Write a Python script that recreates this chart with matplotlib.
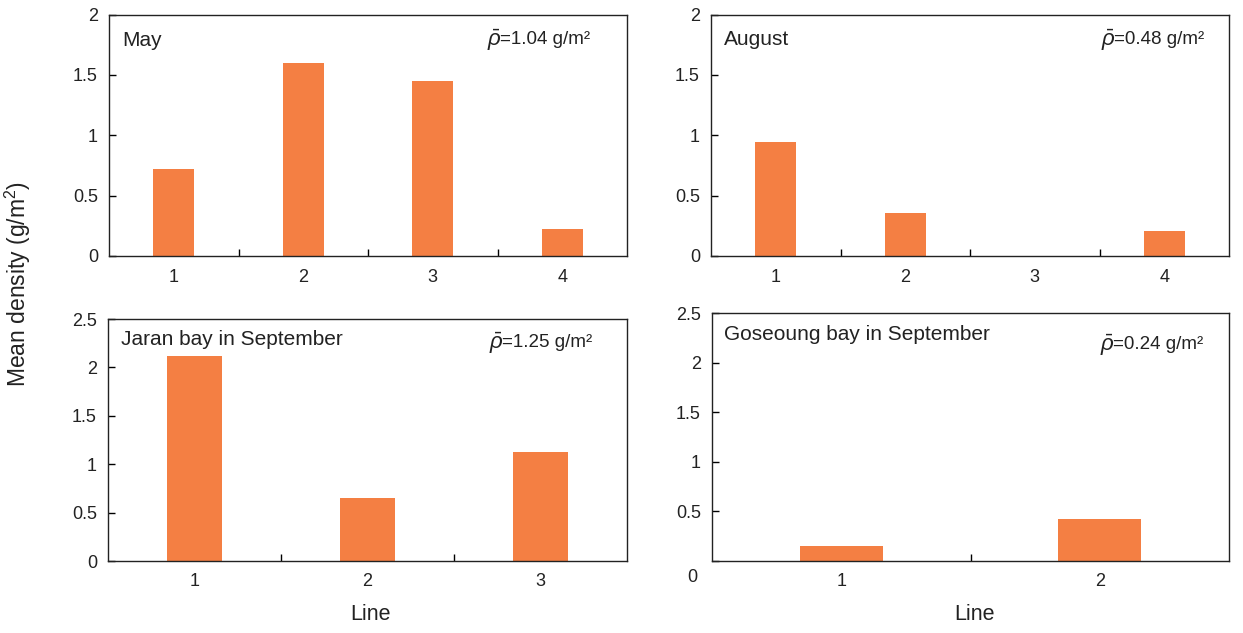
import numpy as np
import matplotlib
matplotlib.use("Agg")
import matplotlib.pyplot as plt
from matplotlib.transforms import offset_copy

plt.rcParams['font.family'] = ['Liberation Sans', 'DejaVu Sans']
plt.rcParams['mathtext.fontset'] = 'custom'
plt.rcParams['mathtext.rm'] = 'Liberation Sans'
plt.rcParams['mathtext.it'] = 'Liberation Sans:italic'

# data
may_lines = ['1', '2', '3', '4']
may_vals = [0.72, 1.60, 1.45, 0.22]
aug_lines = ['1', '2', '3', '4']
aug_vals = [0.94, 0.36, 0.0, 0.21]
jaran_lines = ['1', '2', '3']
jaran_vals = [2.12, 0.65, 1.13]
goseoung_lines = ['1', '2']
goseoung_vals = [0.15, 0.42]

titles = ['May', 'August', 'Jaran bay in September', 'Goseoung bay in September']
means = ['1.04', '0.48', '1.25', '0.24']
ymaxes = [2, 2, 2.5, 2.5]

bar_color = '#F47F43'
txt = '#222222'
W, H = 1243, 633

fig = plt.figure(figsize=(W / 100, H / 100), dpi=100)

# axes boxes in pixels: left, top, right, bottom
boxes = [(109, 14.5, 627, 256), (711, 14.5, 1229, 256),
         (108, 319, 627, 561), (712, 313, 1229, 561)]
title_pos = [(0.025, 0.894), (0.025, 0.898), (0.025, 0.917), (0.023, 0.915)]
mean_pos = [(0.73, 0.894), (0.753, 0.894), (0.735, 0.90), (0.751, 0.87)]

data = [(may_lines, may_vals), (aug_lines, aug_vals),
        (jaran_lines, jaran_vals), (goseoung_lines, goseoung_vals)]

for i, (lines, vals) in enumerate(data):
    l, t, r, b = boxes[i]
    ax = fig.add_axes([l / W, 1 - b / H, (r - l) / W, (b - t) / H])
    x = np.arange(len(lines))
    ax.bar(x, vals, width=0.32, color=bar_color, edgecolor='none')
    ax.set_xlim(-0.5, len(lines) - 0.5)
    ax.set_ylim(0, ymaxes[i])
    yt = np.arange(0, ymaxes[i] + 0.01, 0.5)
    ax.set_yticks(yt)
    ax.set_yticklabels(['%g' % v for v in yt])
    ax.set_xticks(x)
    ax.set_xticklabels(lines)
    ax.set_xticks(np.arange(0.5, len(lines) - 0.5, 1), minor=True)
    ax.tick_params(axis='x', which='major', length=0, pad=9, labelsize=13, labelcolor=txt)
    ax.tick_params(axis='x', which='minor', direction='in', length=5, width=1, color='black')
    ax.tick_params(axis='y', direction='in', length=5, width=1, pad=8, labelsize=13,
                   labelcolor=txt, color='black')
    for s in ax.spines.values():
        s.set_linewidth(1.0)
        s.set_color(txt)
    ax.text(title_pos[i][0], title_pos[i][1], titles[i], transform=ax.transAxes,
            fontsize=15, va='center', ha='left', color=txt)
    # mean density note: large italic rho with bar, then the value
    ax.text(mean_pos[i][0], mean_pos[i][1], r'$\bar{\rho}$', transform=ax.transAxes,
            fontsize=16, va='center', ha='left', color=txt)
    tr = offset_copy(ax.transAxes, fig=fig, x=13, y=1, units='dots')
    ax.text(mean_pos[i][0], mean_pos[i][1], '=' + means[i] + ' g/m²', transform=tr,
            fontsize=13.5, va='center', ha='left', color=txt)
    if i == 3:
        # the zero label sits a bit lower in this panel
        ax.set_yticklabels(['' if v == 0 else '%g' % v for v in yt])
        ax.text(-0.029, -0.068, '0', transform=ax.transAxes, fontsize=13,
                ha='right', va='center', color=txt)

fig.text(18 / W, 1 - 284 / H, 'Mean density (g/m$^2$)', rotation=90,
         ha='center', va='center', fontsize=16.5, color=txt)
fig.text(370 / W, 1 - 614 / H, 'Line', ha='center', va='center', fontsize=15.5, color=txt)
fig.text(975 / W, 1 - 614 / H, 'Line', ha='center', va='center', fontsize=15.5, color=txt)

fig.savefig('out.png', dpi=100, facecolor='white')
